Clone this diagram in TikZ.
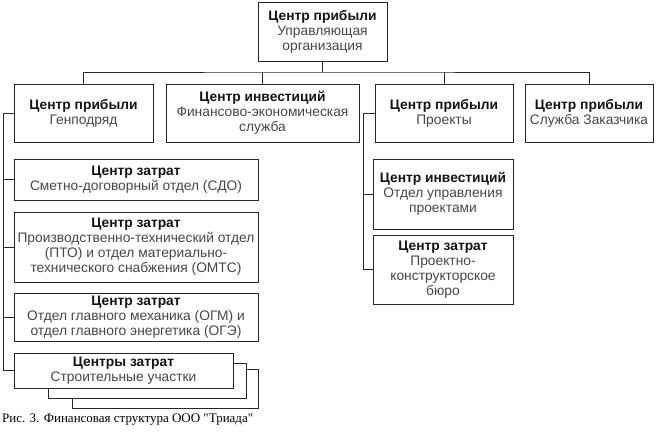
\documentclass[tikz,border=0pt]{standalone}
\usepackage{fontspec}
\setmainfont{Liberation Sans}
\newfontfamily\capfont{Liberation Serif}
\usetikzlibrary{positioning, calc}

\tikzset{
  unit/.style={draw=black!85, line width=0.8pt, fill=white, align=center,
    inner sep=1pt, text=black!72, font=\fontsize{13.8}{15}\selectfont},
  link/.style={draw=black!85, line width=0.8pt},
}
\newcommand{\head}[1]{{\bfseries\color{black!92}#1}}

\begin{document}
\begin{tikzpicture}[x=1pt, y=-1pt]
  \useasboundingbox (0,0) rectangle (661,431);
  % Top level
  \node[unit, minimum width=129pt, minimum height=59pt] (top) at (322.5,31.5)
    {\head{Центр прибыли}\\Управляющая\\организация};
  % Second row
  \node[unit, minimum width=139pt, minimum height=58pt] (gen) at (83.5,113)
    {\head{Центр прибыли}\\Генподряд};
  \node[unit, minimum width=193pt, minimum height=58pt] (fin) at (262.5,113)
    {\head{Центр инвестиций}\\Финансово-экономическая\\служба};
  \node[unit, minimum width=138pt, minimum height=58pt] (proj) at (444,113)
    {\head{Центр прибыли}\\Проекты};
  \node[unit, minimum width=128pt, minimum height=58pt] (cust) at (589,113)
    {\head{Центр прибыли}\\Служба Заказчика};
  % Left column (Genpodryad)
  \node[unit, minimum width=244pt, minimum height=41pt] (sdo) at (136,179.5)
    {\head{Центр затрат}\\Сметно-договорный отдел (СДО)};
  \node[unit, minimum width=244pt, minimum height=70pt] (pto) at (136,247)
    {\head{Центр затрат}\\Производственно-технический отдел\\(ПТО) и отдел материально-\\технического снабжения (ОМТС)};
  \node[unit, minimum width=244pt, minimum height=48pt] (ogm) at (136,317)
    {\head{Центр затрат}\\Отдел главного механика (ОГМ) и\\отдел главного энергетика (ОГЭ)};
  % stacked sites
  \draw[link, fill=white] (72,369) rectangle (258,408);
  \draw[link, fill=white] (48,363) rectangle (246,398);
  \node[unit, minimum width=219pt, minimum height=35pt] (site) at (123.5,370.5)
    {\head{Центры затрат}\\Строительные участки};
  % Right column (Proekty)
  \node[unit, minimum width=140pt, minimum height=70pt] (oup) at (443,194)
    {\head{Центр инвестиций}\\Отдел управления\\проектами};
  \node[unit, minimum width=140pt, minimum height=69pt] (pkb) at (443,269.5)
    {\head{Центр затрат}\\Проектно-\\конструкторское\\бюро};
  % Connectors
  \coordinate (bus) at (322.5,72);
  \draw[link] (top.south) -- (bus);
  \draw[link] (gen.north) |- (bus) -| (cust.north);
  \foreach \n in {fin, proj}
    \draw[link] (\n.north) -- (\n.north |- bus);
  \coordinate (lbus) at (3,113);
  \draw[link] (gen.west) -- (lbus) |- (site.west);
  \foreach \n in {sdo, pto, ogm}
    \draw[link] (lbus |- \n.west) -- (\n.west);
  \coordinate (rbus) at (363,113);
  \draw[link] (proj.west) -- (rbus) |- (pkb.west);
  \draw[link] (rbus |- oup.west) -- (oup.west);
  % Caption
  \node[anchor=base west, inner sep=0pt, font=\capfont\fontsize{13}{15}\selectfont] (cap) at (2,422)
    {Рис. 3. Финансовая структура ООО "Триада"};
\end{tikzpicture}
\end{document}
